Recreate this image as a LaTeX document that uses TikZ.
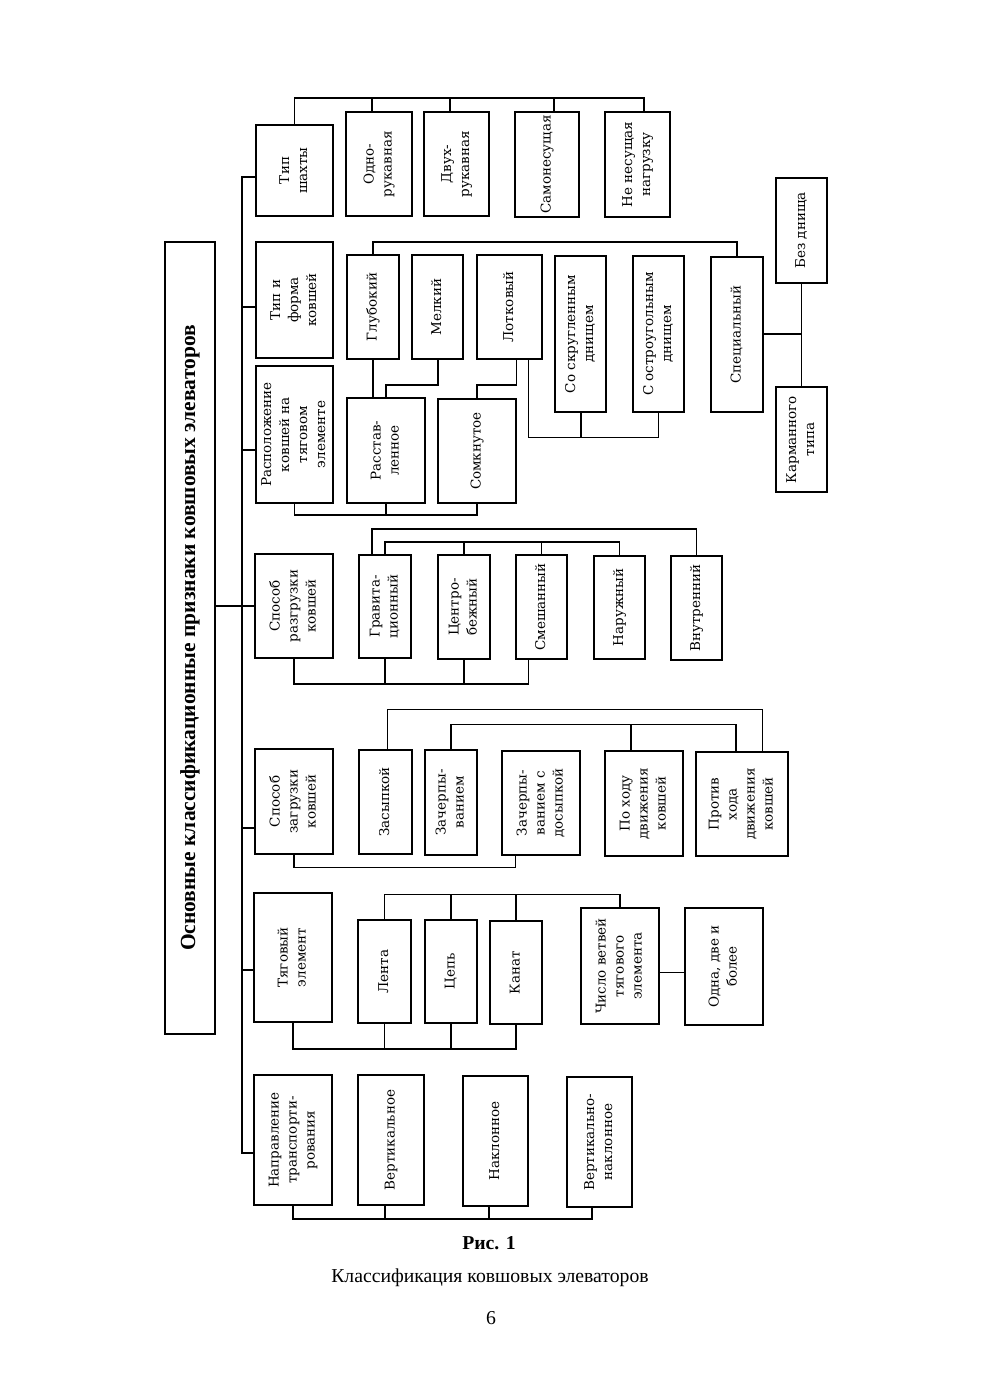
\documentclass[tikz,border=0pt]{standalone}
\usepackage{fontspec}
\setmainfont{Liberation Serif}
\newfontfamily\boxfont{DejaVu Serif}
\usepackage{graphicx}
\newcommand\myrt[1]{\rotatebox{90}{\begin{tabular}{@{}c@{}}#1\end{tabular}}}
\newcommand\mybox[6]{\node[box, minimum width={#4-#2}, minimum height={#5-#3}] (#1) at ({(#2+#4)/2},{-(#3+#5)/2}) {\myrt{#6}};}
\tikzset{
  box/.style={draw, line width=1.1pt, inner sep=0pt, outer sep=0pt, font=\boxfont\fontsize{13.5}{18}\selectfont},
  every path/.style={line width=1.1pt}
}
\begin{document}
\begin{tikzpicture}[x=1pt,y=1pt, line width=1.1pt]
\useasboundingbox (0,0) rectangle (980,-1386);
% title
\node[draw, line width=1.1pt, inner sep=0pt, outer sep=0pt, minimum width=50, minimum height=792] (title) at (190,-638)
  {\rotatebox{90}{\fontsize{21.5}{26}\selectfont\bfseries Основные классификационные признаки ковшовых элеваторов}};
% group 1
\mybox{tipsh}{256}{125}{333}{216}{Тип\\шахты}
\mybox{odno}{346}{112}{412}{216}{Одно-\\рукавная}
\mybox{dvuh}{424}{112}{489}{216}{Двух-\\рукавная}
\mybox{samo}{515}{112}{579}{217}{Самонесущая}
\mybox{nenes}{605}{112}{670}{217}{Не несущая\\нагрузку}
% group 2
\mybox{tipf}{256}{242}{333}{358}{Тип и\\форма\\ковшей}
\mybox{glub}{347}{255}{399}{359}{Глубокий}
\mybox{melk}{412}{255}{463}{359}{Мелкий}
\mybox{lotk}{477}{255}{542}{359}{Лотковый}
\mybox{skrug}{555}{256}{606}{412}{Со скругленным\\днищем}
\mybox{ostr}{633}{256}{684}{412}{С остроугольным\\днищем}
\mybox{spec}{711}{257}{763}{412}{Специальный}
\mybox{bezd}{776}{178}{827}{283}{Без днища}
\mybox{karm}{776}{387}{827}{492}{Карманного\\типа}
% group 3
\mybox{rasp}{256}{366}{333}{503}{Расположение\\ковшей на\\тяговом\\элементе}
\mybox{rasst}{347}{398}{425}{503}{Расстав-\\ленное}
\mybox{somk}{438}{399}{516}{503}{Сомкнутое}
% group 4
\mybox{razgr}{255}{554}{333}{658}{Способ\\разгрузки\\ковшей}
\mybox{grav}{359}{555}{411}{658}{Гравита-\\ционный}
\mybox{centr}{438}{555}{490}{659}{Центро-\\бежный}
\mybox{smesh}{516}{555}{567}{659}{Смешанный}
\mybox{naruzh}{594}{556}{645}{659}{Наружный}
\mybox{vnutr}{671}{556}{722}{660}{Внутренний}
% group 5
\mybox{zagr}{255}{749}{333}{854}{Способ\\загрузки\\ковшей}
\mybox{zasyp}{359}{750}{412}{854}{Засыпкой}
\mybox{zacherp}{425}{750}{477}{855}{Зачерпы-\\ванием}
\mybox{zachdos}{502}{751}{580}{855}{Зачерпы-\\ванием с\\досыпкой}
\mybox{pohodu}{605}{751}{683}{856}{По ходу\\движения\\ковшей}
\mybox{protiv}{696}{752}{788}{856}{Против\\хода\\движения\\ковшей}
% group 6
\mybox{tyag}{254}{893}{332}{1022}{Тяговый\\элемент}
\mybox{lenta}{358}{920}{411}{1023}{Лента}
\mybox{cep}{425}{920}{477}{1023}{Цепь}
\mybox{kanat}{490}{921}{542}{1024}{Канат}
\mybox{chislo}{581}{908}{659}{1024}{Число ветвей\\тягового\\элемента}
\mybox{odna}{685}{908}{763}{1025}{Одна, две и\\более}
% group 7
\mybox{napr}{254}{1075}{332}{1205}{Направление\\транспорти-\\рования}
\mybox{vert}{358}{1075}{424}{1205}{Вертикальное}
\mybox{nakl}{463}{1076}{528}{1206}{Наклонное}
\mybox{vertnakl}{567}{1077}{632}{1207}{Вертикально-\\наклонное}

% spine
\draw (tipsh.west |- 0,-177) -| (242,-1153) -- (napr.west |- 0,-1153);
\draw (242,-307) -- (tipf.west |- 0,-307);
\draw (242,-450) -- (rasp.west |- 0,-450);
\draw (title.east |- 0,-606) -- (razgr.west |- 0,-606);
\draw (242,-828) -- (zagr.west |- 0,-828);
\draw (242,-970) -- (tyag.west |- 0,-970);

% group 1 connectors
\draw (tipsh.north) |- (644,-98) -- (644,0 |- nenes.north);
\draw (372,-98) -- (372,0 |- odno.north);
\draw (450,-98) -- (450,0 |- dvuh.north);
\draw (554,-98) -- (554,0 |- samo.north);

% group 2/3 connectors
\draw (glub.north) |- (737,-242) -- (spec.north);
\draw (spec.east |- 0,-334) -- (801.5,-334);
\draw (bezd.south) -- (karm.north);
\draw (glub.south) -- (373,0 |- rasst.north);
\draw (438,0 |- melk.south) |- (386,-385) -- (386,0 |- rasst.north);
\draw (516.5,0 |- lotk.south) |- (477,-385) -- (somk.north);
\draw (528.7,0 |- lotk.south) |- (658.7,-437.7) -- (658.7,0 |- ostr.south);
\draw (581,0 |- skrug.south) -- (581,-437.7);
\draw (rasp.south) |- (477,-515) -- (somk.south);
\draw (386,0 |- rasst.south) -- (386,-515);

% group 4 connectors
\draw (372,0 |- grav.north) |- (696.5,-529) -- (vnutr.north);
\draw (grav.north) |- (619.5,-542) -- (naruzh.north);
\draw (centr.north) -- (464,-542);
\draw (smesh.north) -- (541.5,-542);
\draw (razgr.south) |- (528.5,-684) -- (528.5,0 |- smesh.south);
\draw (grav.south) -- (385,-684);
\draw (centr.south) -- (464,-684);

% group 5 connectors
\draw (387.8,0 |- zasyp.north) |- (762.3,-709.5) -- (762.3,0 |- protiv.north);
\draw (zacherp.north) |- (736,-724.5) -- (736,0 |- protiv.north);
\draw (631,0 |- pohodu.north) -- (631,-724.5);
\draw (zagr.south) |- (515.4,-867.7) -- (515.4,0 |- zachdos.south);

% group 6 connectors
\draw (lenta.north) |- (620,-894.3) -- (chislo.north);
\draw (cep.north) -- (451,-894.3);
\draw (kanat.north) -- (516,-894.3);
\draw (tyag.south) |- (516,-1049) -- (kanat.south);
\draw (lenta.south) -- (384.5,-1049);
\draw (cep.south) -- (451,-1049);
\draw (chislo.east |- 0,-972.7) -- (odna.west |- 0,-972.7);

% group 7 connectors
\draw (napr.south) |- (592,-1219) -- (592,0 |- vertnakl.south);
\draw (385,0 |- vert.south) -- (385,-1219);
\draw (489,0 |- nakl.south) -- (489,-1219);

% caption
\node[anchor=base, font=\fontsize{19.7}{23}\selectfont\bfseries] (ris) at (489,-1249) {Рис. 1};
\node[anchor=base, font=\fontsize{19.7}{23}\selectfont] (cap) at (490,-1282.5) {Классификация ковшовых элеваторов};
\node[anchor=base, font=\fontsize{19.7}{23}\selectfont] (pg) at (491,-1324) {6};
\end{tikzpicture}
\end{document}
